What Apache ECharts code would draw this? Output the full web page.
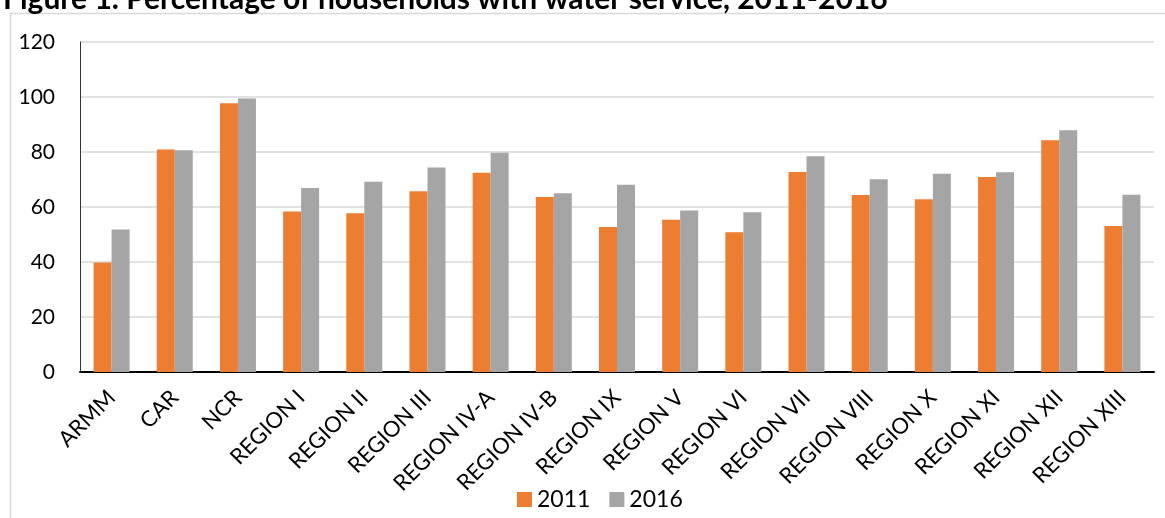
<!DOCTYPE html>
<html>
<head>
<meta charset="utf-8">
<script src="https://cdn.jsdelivr.net/npm/echarts@6/dist/echarts.min.js"></script>
<style>
html,body{margin:0;padding:0;background:#fff;}
#chart{width:1165px;height:518px;}
</style>
</head>
<body>
<div id="chart"></div>
<script>
const categories = ['ARMM','CAR','NCR','REGION I','REGION II','REGION III','REGION IV-A','REGION IV-B','REGION IX','REGION V','REGION VI','REGION VII','REGION VIII','REGION X','REGION XI','REGION XII','REGION XIII'];
const values2011 = [39.8, 80.9, 97.7, 58.4, 57.7, 65.7, 72.5, 63.6, 52.7, 55.4, 50.8, 72.7, 64.4, 62.8, 70.9, 84.3, 53.1];
const values2016 = [51.8, 80.6, 99.5, 66.9, 69.2, 74.4, 79.7, 65.0, 68.1, 58.7, 58.1, 78.5, 70.1, 72.1, 72.6, 87.9, 64.5];
const seriesNames = ['2011', '2016'];
const titleText = 'Figure 1. Percentage of households with water service, 2011-2016';

const FONT = 'Lato';
const chart = echarts.init(document.getElementById('chart'));
chart.setOption({
  animation: false,
  backgroundColor: '#fff',
  textStyle: { fontFamily: FONT, color: '#000' },
  title: {
    text: titleText,
    left: -2, top: -21,
    textStyle: { fontFamily: FONT, fontWeight: 'bold', fontSize: 30, color: '#000' }
  },
  graphic: [{
    type: 'rect',
    shape: { x: 10.5, y: 13.5, width: 1300, height: 700 },
    style: { fill: '#fff', stroke: '#D9D9D9', lineWidth: 1.5 },
    z: -1
  }],
  legend: {
    data: seriesNames,
    bottom: 2,
    left: 512,
    itemWidth: 15, itemHeight: 15, itemGap: 19,
    icon: 'rect',
    textStyle: { fontFamily: FONT, fontSize: 23, color: '#000' }
  },
  grid: { left: 80, right: 11, top: 42, bottom: 146, containLabel: false },
  xAxis: {
    type: 'category',
    data: categories,
    axisLine: { lineStyle: { color: '#000', width: 2 } },
    axisTick: { show: false },
    axisLabel: { rotate: 45, fontFamily: FONT, fontSize: 22, color: '#000', margin: 22, interval: 0 }
  },
  yAxis: {
    type: 'value',
    min: 0, max: 120, interval: 20,
    axisLine: { show: true, lineStyle: { color: '#333', width: 1 } },
    axisTick: { show: false },
    splitLine: { lineStyle: { color: '#D9D9D9', width: 1.5 } },
    axisLabel: { fontFamily: FONT, fontSize: 21, color: '#000', margin: 25 }
  },
  series: [
    { name: seriesNames[0], type: 'bar', data: values2011, barWidth: 18, barGap: '0%',
      itemStyle: { color: '#ED7D31' } },
    { name: seriesNames[1], type: 'bar', data: values2016, barWidth: 18, barGap: '0%',
      itemStyle: { color: '#A5A5A5' } }
  ]
});
</script>
</body>
</html>
